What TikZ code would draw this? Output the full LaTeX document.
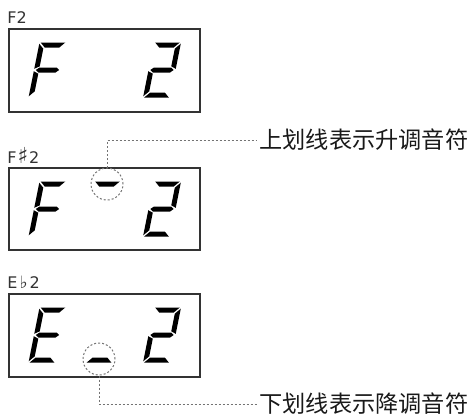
\documentclass[tikz,border=0pt]{standalone}
\usepackage{fontspec}
\setmainfont{DejaVu Sans}
\newfontfamily\cjk{Noto Sans CJK SC}
\usetikzlibrary{positioning}

% outlines of the seven LCD segments (upright digit, 27 wide, 55 high)
\def\lcdsega{(1.2,55) -- (25.8,55) -- (20.8,50) -- (6.2,50) -- cycle}
\def\lcdsegd{(1.2,0) -- (25.8,0) -- (20.8,5) -- (6.2,5) -- cycle}
\def\lcdsegg{(1.8,27.5) -- (5,30) -- (22,30) -- (25.2,27.5) -- (22,25) -- (5,25) -- cycle}
\def\lcdsegf{(0,53.8) -- (5,48.8) -- (5,31.2) -- (0,28.7) -- cycle}
\def\lcdsege{(0,26.3) -- (5,23.8) -- (5,6.2) -- (0,1.2) -- cycle}
\def\lcdsegb{(27,53.8) -- (22,48.8) -- (22,31.2) -- (27,28.7) -- cycle}
\def\lcdsegc{(27,26.3) -- (22,23.8) -- (22,6.2) -- (27,1.2) -- cycle}

\newcommand{\accsign}[2]{{\fontsize{#1}{9pt}\selectfont #2}}

\tikzset{
  segfill/.style={fill=black},
  pics/lcd/.style={code={
      \begin{scope}[yscale=-1, xslant=-0.2]
        \foreach \s in {#1} {\fill[segfill] \csname lcdseg\s\endcsname;}
      \end{scope}}},
  lcdframe/.style={draw=black!80, line width=0.75pt},
  leader/.style={draw=black!55, line width=0.5pt, dash pattern=on 1pt off 1pt},
  marker/.style={leader, circle, minimum size=16pt, inner sep=0pt},
  keylabel/.style={font=\fontsize{8pt}{9pt}\selectfont, text=black!80, inner sep=0pt, anchor=base west},
  note/.style={font=\cjk\fontsize{11.6pt}{14pt}\selectfont, text=black!90, inner sep=1pt, anchor=west}
}

\begin{document}
\begin{tikzpicture}[x=0.5pt, y=-0.5pt]
  \useasboundingbox (0,0) rectangle (474,414);
  % F2
  \node[keylabel] (plainkey) at (7,23) {F2};
  \draw[lcdframe] (9,29) rectangle (200,112);
  \pic at (28.5,97.5) {lcd={a,f,g,e}};
  \pic at (143,97.5) {lcd={a,b,g,e,d}};
  % F#2
  \node[keylabel] (sharpkey) at (7,163) {F\kern0.5pt\accsign{11pt}{♯}\kern0.5pt2};
  \draw[lcdframe] (9,168) rectangle (200,250);
  \pic at (28.5,236.5) {lcd={a,f,g,e}};
  \pic at (83,236.5) {lcd={a}};
  \pic at (143,236.5) {lcd={a,b,g,e,d}};
  \node[marker] (sharpmark) at (107,184) {};
  \node[note] (sharpnote) at (257,140) {上划线表示升调音符};
  \draw[leader] (sharpmark.north) |- (sharpnote.west);
  % Eb2
  \node[keylabel] (flatkey) at (7,288) {E\kern1pt\accsign{8.5pt}{♭}\kern1pt2};
  \draw[lcdframe] (9,294) rectangle (200,377);
  \pic at (28.5,362.5) {lcd={a,f,g,e,d}};
  \pic at (85.5,362.5) {lcd={d}};
  \pic at (143,362.5) {lcd={a,b,g,e,d}};
  \node[marker] (flatmark) at (99,359) {};
  \node[note] (flatnote) at (257,404) {下划线表示降调音符};
  \draw[leader] (flatmark.south) |- (flatnote.west);
\end{tikzpicture}
\end{document}
